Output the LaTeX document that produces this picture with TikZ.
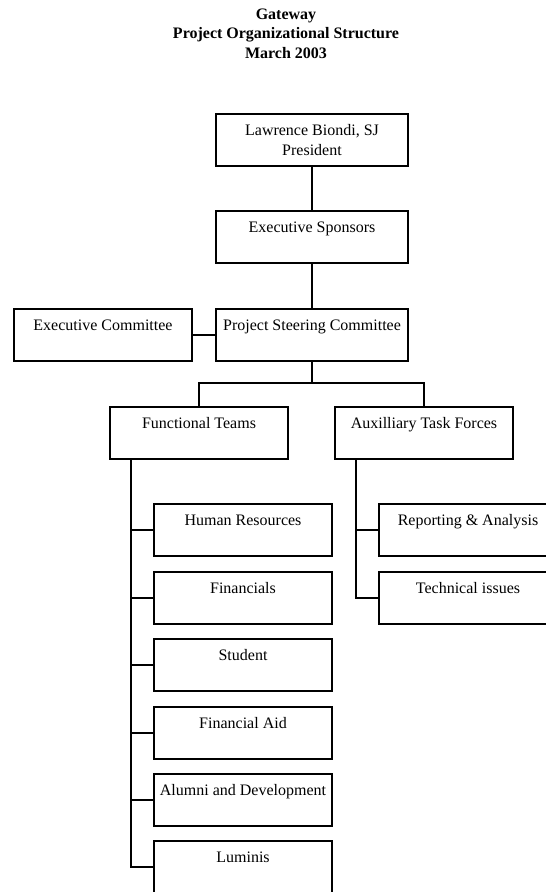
\documentclass[tikz,border=0pt]{standalone}
\usepackage{fontspec}
\setmainfont{Liberation Serif}

\tikzset{
  orgbox/.style={draw, minimum width=178pt, minimum height=52pt, inner sep=0pt,
    font=\fontsize{16}{20}\selectfont},
  topline/.style={text height=21pt, text depth=31pt},
  widebox/.style={minimum width=192pt},
}

\begin{document}
\begin{tikzpicture}[x=1pt, y=-1pt, line width=1.6pt]
    \useasboundingbox (0,0) rectangle (546,892);
    % heading
    \node[font=\bfseries\fontsize{16}{19.5}\selectfont, align=center, anchor=north, inner sep=0pt]
        (title) at (286,8) {Gateway\\Project Organizational Structure\\March 2003};
    % top of the tree
    \node[orgbox, widebox, align=center] (pres) at (312,140) {Lawrence Biondi, SJ\\President};
    \node[orgbox, widebox, topline] (spons) at (312,237) {Executive Sponsors};
    \node[orgbox, widebox, topline] (steer) at (312,335) {Project Steering Committee};
    \node[orgbox, topline] (excom) at (103,335) {Executive Committee};
    \node[orgbox, topline] (func) at (199,433) {Functional Teams};
    \node[orgbox, topline] (aux) at (424,433) {Auxilliary Task Forces};
    % functional teams
    \node[orgbox, topline] (hr) at (243,530) {Human Resources};
    \node[orgbox, topline] (fin) at (243,598) {Financials};
    \node[orgbox, topline] (stud) at (243,665) {Student};
    \node[orgbox, topline] (aid) at (243,733) {Financial Aid};
    \node[orgbox, topline] (alum) at (243,800) {Alumni and Development};
    \node[orgbox, topline] (lum) at (243,867) {Luminis};
    % task forces
    \node[orgbox, topline] (rep) at (468,530) {Reporting \& Analysis};
    \node[orgbox, topline] (tech) at (468,598) {Technical issues};
    % lines
    \coordinate (bus) at (312,383);
    \coordinate (fspine) at ([xshift=22pt]func.south west);
    \coordinate (aspine) at ([xshift=22pt]aux.south west);
    \draw (pres) -- (spons);
    \draw (spons) -- (steer);
    \draw (excom) -- (steer);
    \draw (steer.south) -- (bus) -| (func.north);
    \draw (bus) -| (aux.north);
    \foreach \b in {hr,fin,stud,aid,alum,lum}
        \draw (fspine) |- (\b.west);
    \foreach \b in {rep,tech}
        \draw (aspine) |- (\b.west);
\end{tikzpicture}
\end{document}
